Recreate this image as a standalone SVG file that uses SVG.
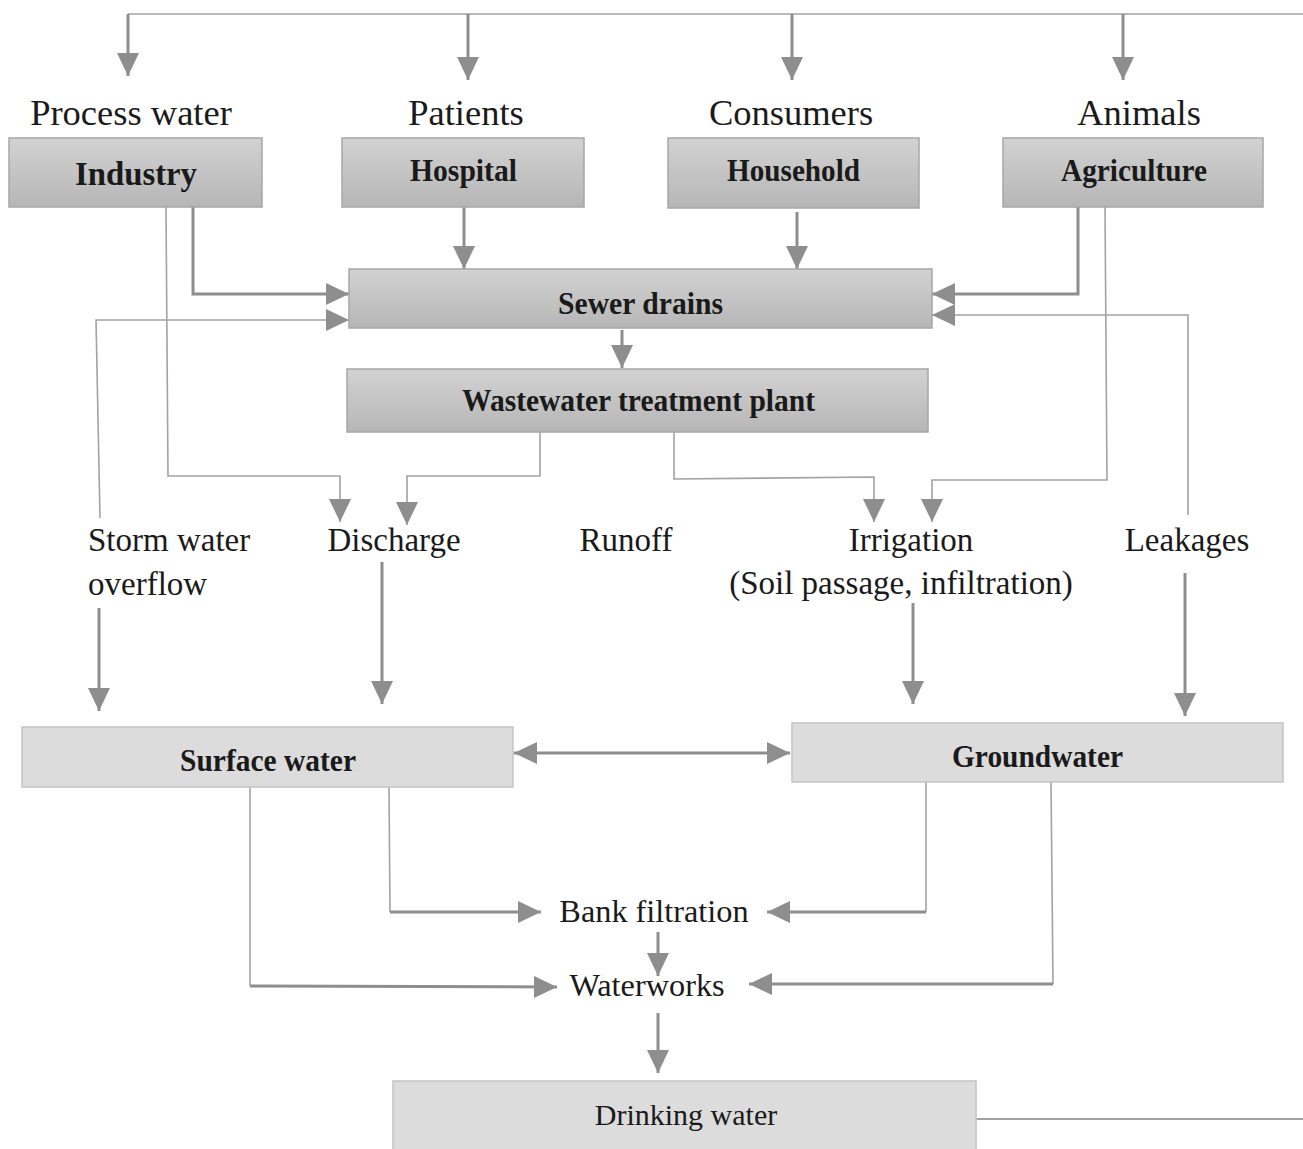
<svg xmlns="http://www.w3.org/2000/svg" width="1303" height="1149" viewBox="0 0 1303 1149">
<style>
.bg{fill:#ffffff}
.box{fill:url(#g1);stroke:#a6a6a6;stroke-width:1.5}
.box2{fill:#dcdcdc;stroke:#c4c4c4;stroke-width:1.5}
.lbl{font-family:"Liberation Serif","Times New Roman",serif;fill:#1a1a1a;text-anchor:middle}
.big{font-size:36.5px}
.mid{font-size:33px}
.low{font-size:32.3px}
.bold{font-weight:bold;font-size:32px}
.thick{fill:none;stroke:#8e8e8e;stroke-width:3}
.thin{fill:none;stroke:#a2a2a2;stroke-width:1.6}
</style>
<defs>
<linearGradient id="g1" x1="0" y1="0" x2="0" y2="1">
<stop offset="0" stop-color="#d2d2d2"/>
<stop offset="1" stop-color="#b6b6b6"/>
</linearGradient>
<marker id="ah" markerUnits="userSpaceOnUse" markerWidth="24" markerHeight="22" refX="23" refY="11" orient="auto">
<path d="M0,0 L23,11 L0,22 z" fill="#8e8e8e"/>
</marker>
<marker id="ahs" markerUnits="userSpaceOnUse" markerWidth="24" markerHeight="22" refX="23" refY="11" orient="auto-start-reverse">
<path d="M0,0 L23,11 L0,22 z" fill="#8e8e8e"/>
</marker>
</defs>
<rect class="bg" x="0" y="0" width="1303" height="1149"/>

<g id="connectors">
<path class="thin" d="M128,14 L1303,14"/>
<path class="thick" d="M128,14 L128,76" marker-end="url(#ah)"/>
<path class="thick" d="M468,14 L468,80" marker-end="url(#ah)"/>
<path class="thick" d="M792,14 L792,80" marker-end="url(#ah)"/>
<path class="thick" d="M1123,14 L1123,80" marker-end="url(#ah)"/>

<path class="thick" d="M193,207 L193,294 L349,294" marker-end="url(#ah)"/>
<path class="thin" d="M166,207 L168,476 L340,476 L340,522" marker-end="url(#ah)"/>
<path class="thick" d="M464,207 L464,269" marker-end="url(#ah)"/>
<path class="thick" d="M797,212 L797,269" marker-end="url(#ah)"/>
<path class="thick" d="M1078,207 L1078,294 L932,294" marker-end="url(#ah)"/>
<path class="thin" d="M1105,207 L1107,480 L932,480 L932,522" marker-end="url(#ah)"/>
<path class="thin" d="M100,518 L96,320 L349,320" marker-end="url(#ah)"/>
<path class="thin" d="M1188,515 L1188,315 L932,315" marker-end="url(#ah)"/>
<path class="thick" d="M622,330 L622,368" marker-end="url(#ah)"/>
<path class="thin" d="M540,432 L540,476 L407,476 L407,525" marker-end="url(#ah)"/>
<path class="thin" d="M674,432 L674,479 L874,477 L874,522" marker-end="url(#ah)"/>

<path class="thick" d="M99,608 L99,711" marker-end="url(#ah)"/>
<path class="thick" d="M382,562 L382,704" marker-end="url(#ah)"/>
<path class="thick" d="M913,603 L913,704" marker-end="url(#ah)"/>
<path class="thick" d="M1185,573 L1185,716" marker-end="url(#ah)"/>
<path class="thick" d="M514,753 L790,753" marker-start="url(#ahs)" marker-end="url(#ah)"/>

<path class="thin" d="M250,787 L250,986"/>
<path class="thick" d="M250,986 L557,987" marker-end="url(#ah)"/>
<path class="thin" d="M389,787 L390,912"/>
<path class="thick" d="M390,912 L541,912" marker-end="url(#ah)"/>
<path class="thin" d="M926,782 L926,912"/>
<path class="thick" d="M926,912 L767,912" marker-end="url(#ah)"/>
<path class="thin" d="M1051,782 L1053,984"/>
<path class="thick" d="M1053,984 L749,984" marker-end="url(#ah)"/>
<path class="thick" d="M658,932 L658,976" marker-end="url(#ah)"/>
<path class="thick" d="M658,1013 L658,1073" marker-end="url(#ah)"/>
<path class="thin" d="M976,1119 L1303,1119" style="stroke-width:2.2"/>
</g>

<g id="label-process-water"><text class="lbl big" x="131" y="125">Process water</text></g>
<g id="label-patients"><text class="lbl big" x="466" y="125">Patients</text></g>
<g id="label-consumers"><text class="lbl big" x="791" y="125">Consumers</text></g>
<g id="label-animals"><text class="lbl big" x="1139" y="125">Animals</text></g>

<g id="node-industry"><rect class="box" x="9" y="138" width="253" height="69"/><text class="lbl bold" x="136" y="185" style="font-size:33px" textLength="122" lengthAdjust="spacingAndGlyphs">Industry</text></g>
<g id="node-hospital"><rect class="box" x="342" y="138" width="242" height="69"/><text class="lbl bold" x="463.5" y="181" textLength="107" lengthAdjust="spacingAndGlyphs">Hospital</text></g>
<g id="node-household"><rect class="box" x="668" y="138" width="251" height="70"/><text class="lbl bold" x="793.5" y="181" textLength="133" lengthAdjust="spacingAndGlyphs">Household</text></g>
<g id="node-agriculture"><rect class="box" x="1003" y="138" width="260" height="69"/><text class="lbl bold" x="1134" y="181" textLength="146" lengthAdjust="spacingAndGlyphs">Agriculture</text></g>

<g id="node-sewer"><rect class="box" x="349" y="269" width="583" height="59"/><text class="lbl bold" x="640.5" y="314" textLength="165" lengthAdjust="spacingAndGlyphs">Sewer drains</text></g>
<g id="node-wwtp"><rect class="box" x="347" y="369" width="581" height="63"/><text class="lbl bold" x="638.5" y="411" textLength="353" lengthAdjust="spacingAndGlyphs">Wastewater treatment plant</text></g>

<g id="label-storm"><text class="lbl mid" x="88" y="551" style="text-anchor:start">Storm water</text><text class="lbl mid" x="88" y="595" style="text-anchor:start">overflow</text></g>
<g id="label-discharge"><text class="lbl mid" x="394" y="551">Discharge</text></g>
<g id="label-runoff"><text class="lbl mid" x="626" y="551">Runoff</text></g>
<g id="label-irrigation"><text class="lbl mid" x="911" y="551">Irrigation</text><text class="lbl mid" x="901" y="594">(Soil passage, infiltration)</text></g>
<g id="label-leakages"><text class="lbl mid" x="1187" y="551">Leakages</text></g>

<g id="node-surface"><rect class="box2" x="22" y="727" width="491" height="60"/><text class="lbl bold" x="268" y="771" textLength="176" lengthAdjust="spacingAndGlyphs">Surface water</text></g>
<g id="node-groundwater"><rect class="box2" x="792" y="723" width="491" height="59"/><text class="lbl bold" x="1037.5" y="767" textLength="171" lengthAdjust="spacingAndGlyphs">Groundwater</text></g>

<g id="label-bank"><text class="lbl low" x="654" y="922">Bank filtration</text></g>
<g id="label-waterworks"><text class="lbl low" x="647" y="996">Waterworks</text></g>
<g id="node-drinking"><rect class="box2" x="393" y="1081" width="583" height="72"/><text class="lbl" x="686" y="1125" style="font-size:30px">Drinking water</text></g>
</svg>
